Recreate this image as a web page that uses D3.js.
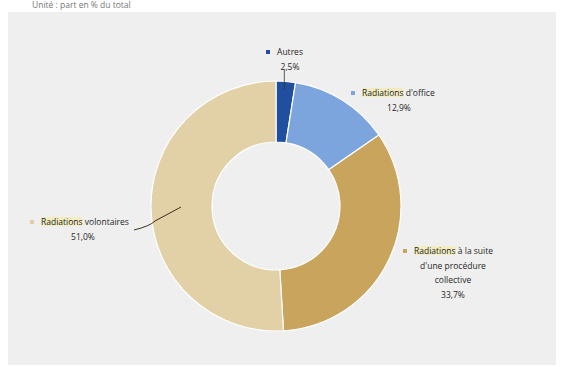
<!DOCTYPE html>
<html>
<head>
<meta charset="utf-8">
<script src="https://cdn.jsdelivr.net/npm/d3@7"></script>
<style>
  body { margin: 0; background: #fff; }
  svg { display: block; font-family: "Open Sans", "Liberation Sans", sans-serif; }
</style>
</head>
<body>
<script>
(() => {
    var w = 563,
        h = 367;

    // donnees
    var categories = ["Autres", "Radiations d'office", "Radiations à la suite d'une procédure collective", "Radiations volontaires"];
    var values = [2.5, 12.9, 33.7, 51.0];
    var valueLabels = ["2,5%", "12,9%", "33,7%", "51,0%"];
    var colors = ["#1f4f9e", "#7ca4dd", "#c8a45c", "#e2d0a6"];
    // lignes des etiquettes
    var labelLines = [["Autres"], ["Radiations d'office"], ["Radiations à la suite", "d'une procédure", "collective"], ["Radiations volontaires"]];

    var svg = d3.select("body").append("svg").attr("width", w).attr("height", h);

    svg.append("text").attr("x", 32).attr("y", 8)
        .attr("font-size", 8.5).attr("fill", "#777")
        .text("Unité : part en % du total");

    svg.append("rect").attr("x", 8).attr("y", 12).attr("width", 548).attr("height", 353)
        .attr("fill", "#efefef");

    var cx = 276, cy = 206, rOut = 125, rIn = 64;

    var pie = d3.pie().sort(null).value(d => d);
    var arc = d3.arc().innerRadius(rIn).outerRadius(rOut);

    var g = svg.append("g").attr("transform", "translate(" + [cx, cy] + ")");

    g.selectAll("path").data(pie(values)).enter().append("path")
        .attr("d", arc)
        .attr("fill", (d, i) => colors[i])
        .attr("stroke", "#fff").attr("stroke-width", 1.2);

    // positions des etiquettes (coin gauche du marqueur)
    var labelPos = [
        { mx: 268, y: 52, tx: 290 },
        { mx: 353, y: 93, tx: 399 },
        { mx: 405, y: 251, tx: 453 },
        { mx: 32, y: 222, tx: 83 }
    ];

    var labels = svg.selectAll(".label").data(categories).enter().append("g").attr("class", "label");

    labels.each(function (d, i) {
        var sel = d3.select(this);
        var p = labelPos[i];
        sel.append("rect").attr("x", p.mx - 2).attr("y", p.y - 2).attr("width", 4).attr("height", 4)
            .attr("fill", colors[i]);
        var lines = labelLines[i].concat([valueLabels[i]]);
        var lx0 = p.mx + 9;
        lines.forEach((t, j) => {
            var isFirst = j === 0;
            var txt = sel.append("text")
                .attr("y", p.y + 3 + j * 14.5)
                .attr("font-size", 8.5)
                .attr("fill", "#262626");
            if (isFirst && i !== 0) {
                txt.attr("x", lx0).attr("text-anchor", "start");
            } else {
                txt.attr("x", p.tx).attr("text-anchor", "middle");
            }
            txt.text(t);
            if (isFirst && t.indexOf("Radiations") === 0) {
                var bb = txt.node().getBBox();
                var tmp = sel.append("text").attr("font-size", 8.5).text("Radiations");
                var wr = tmp.node().getComputedTextLength();
                tmp.remove();
                sel.insert("rect", "text").attr("x", bb.x).attr("y", bb.y + 1).attr("width", wr)
                    .attr("height", bb.height - 2).attr("fill", "#f3ecc0");
            }
        });
    });

    // lignes de rappel
    var a0 = pie(values)[0];
    var midA = (a0.startAngle + a0.endAngle) / 2;
    svg.append("line")
        .attr("x1", cx + Math.sin(midA) * rOut * 0.9 - 0.5).attr("y1", 70)
        .attr("x2", cx + Math.sin(midA) * rOut * 0.9 - 0.5).attr("y2", cy - rOut * 0.93)
        .attr("stroke", "#333").attr("stroke-width", 0.8);

    svg.append("path")
        .attr("d", "M134,230 Q150,226 155,221 L181,207")
        .attr("fill", "none").attr("stroke", "#3a3020").attr("stroke-width", 1);
})()
</script>
</body>
</html>
